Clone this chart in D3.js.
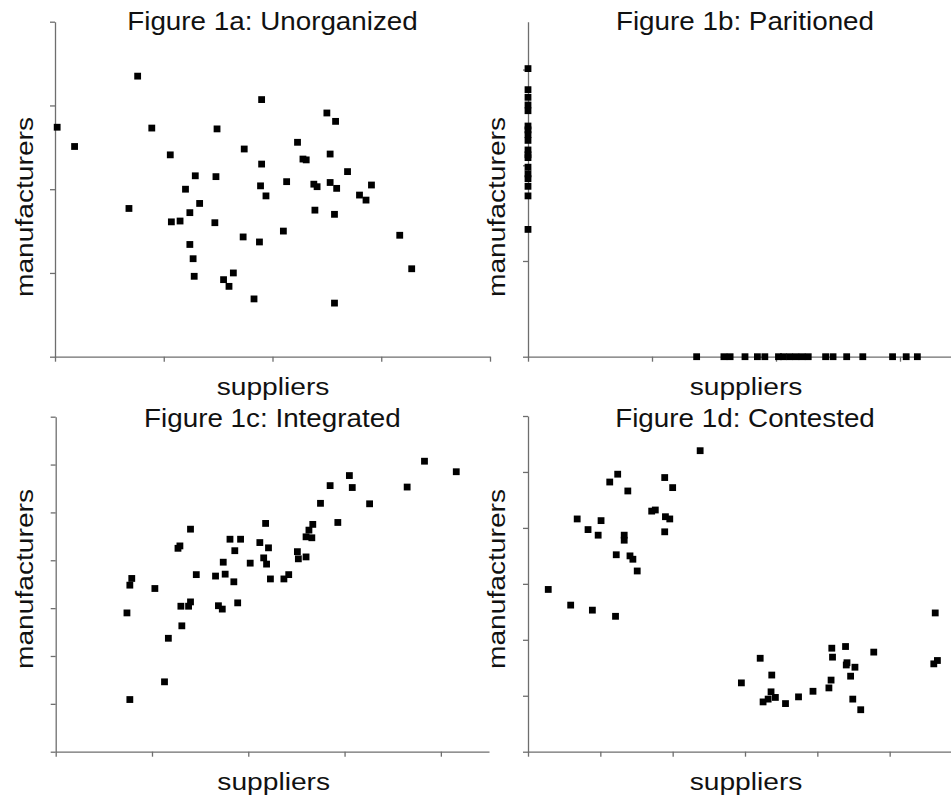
<!DOCTYPE html>
<html>
<head>
<meta charset="utf-8">
<script src="https://cdn.jsdelivr.net/npm/d3@7"></script>
<style>
  body { margin: 0; background: #fff; }
  .axis path, .axis line { stroke: #6e6e6e; stroke-width: 1.3; }
  .axis text { display: none; }
  .label { font-family: 'Liberation Sans', Arial, sans-serif; fill: #111; }
</style>
</head>
<body>
<div id="figure"></div>
<script>

var titles = ['Figure 1a: Unorganized', 'Figure 1b: Paritioned', 'Figure 1c: Integrated', 'Figure 1d: Contested'];
var xLabel = 'suppliers';
var yLabel = 'manufacturers';

var unorganizedSuppliers = [0.02, 0.18, 0.76, 0.89, 0.68, 1.06, 1.07, 1.15, 1.20, 1.29, 1.33, 1.24, 1.24, 1.27, 1.28, 1.48, 1.49, 1.47, 1.55, 1.64, 1.60, 1.73, 1.74, 1.83, 1.88, 1.90, 1.90, 1.89, 1.94, 2.10, 2.13, 2.23, 2.28, 2.31, 2.38, 2.41, 2.39, 2.50, 2.58, 2.53, 2.53, 2.59, 2.57, 2.57, 2.69, 2.80, 2.86, 2.91, 3.17, 3.28];
var unorganizedManufacturers = [2.74, 2.51, 3.35, 2.73, 1.77, 2.41, 1.61, 1.62, 2.00, 2.16, 1.83, 1.72, 1.34, 1.17, 0.96, 2.15, 2.72, 1.60, 0.92, 1.00, 0.84, 1.43, 2.48, 0.69, 1.37, 3.07, 2.30, 2.04, 1.92, 1.50, 2.09, 2.56, 2.36, 2.35, 2.06, 2.03, 1.75, 2.91, 2.81, 2.42, 2.08, 2.01, 1.70, 0.64, 2.21, 1.93, 1.87, 2.05, 1.45, 1.05];

var partitionedSuppliers = [0, 0, 0, 0, 0, 0, 0, 0, 0, 0, 0, 0, 0, 0, 0, 0, 0, 0,
  1.36, 1.58, 1.63, 1.75, 1.85, 1.91, 2.02, 2.06, 2.11, 2.16, 2.21, 2.26, 2.40, 2.46, 2.57, 2.70, 2.94, 3.05, 3.14];
var partitionedManufacturers = [3.01, 2.79, 2.71, 2.63, 2.57, 2.41, 2.37, 2.32, 2.26, 2.16, 2.11, 2.08, 1.98, 1.91, 1.86, 1.78, 1.68, 1.33,
  0, 0, 0, 0, 0, 0, 0, 0, 0, 0, 0, 0, 0, 0, 0, 0, 0, 0, 0];

var integratedSuppliers = [0.74, 0.77, 0.79, 0.77, 1.03, 1.13, 1.17, 1.27, 1.29, 1.30, 1.31, 1.38, 1.40, 1.40, 1.46, 1.66, 1.69, 1.73, 1.74, 1.76, 1.81, 1.85, 1.86, 1.89, 1.92, 2.02, 2.12, 2.16, 2.18, 2.19, 2.21, 2.23, 2.37, 2.42, 2.51, 2.52, 2.60, 2.60, 2.63, 2.66, 2.67, 2.75, 2.85, 2.93, 3.05, 3.08, 3.26, 3.65, 3.83, 4.16];
var integratedManufacturers = [2.90, 3.48, 3.62, 1.09, 3.41, 1.46, 2.37, 4.25, 4.30, 3.04, 2.63, 3.04, 3.13, 4.65, 3.70, 3.67, 3.05, 2.98, 3.96, 3.71, 4.44, 3.55, 4.20, 3.11, 4.44, 3.94, 4.37, 4.05, 4.77, 3.92, 4.26, 3.61, 3.61, 3.70, 4.18, 4.03, 4.07, 4.49, 4.63, 4.47, 4.75, 5.19, 5.56, 4.79, 5.77, 5.52, 5.18, 5.53, 6.07, 5.85];

var contestedSuppliers = [0.28, 0.59, 0.89, 1.21, 0.68, 0.83, 0.97, 1.01, 1.13, 1.24, 1.38, 1.33, 1.33, 1.22, 1.41, 1.45, 1.51, 1.71, 1.76, 1.89, 2.00, 1.90, 1.96, 1.89, 2.38, 2.95, 3.21, 3.37, 3.25, 3.32, 3.36, 3.42, 3.56, 3.74, 3.94, 4.16, 4.19, 4.20, 4.21, 4.39, 4.41, 4.40, 4.52, 4.46, 4.49, 4.60, 4.78, 5.63, 5.61, 5.66];
var contestedManufacturers = [2.90, 2.62, 2.53, 2.42, 4.16, 3.97, 3.87, 4.13, 4.82, 4.96, 4.66, 3.87, 3.78, 3.52, 3.50, 3.44, 3.23, 4.30, 4.32, 4.90, 4.72, 4.20, 4.16, 3.93, 5.38, 1.23, 1.67, 1.37, 0.89, 0.94, 1.07, 0.97, 0.86, 0.98, 1.08, 1.14, 1.28, 1.85, 1.69, 1.88, 1.59, 1.55, 1.51, 1.35, 0.94, 0.75, 1.78, 2.48, 1.57, 1.63];

var panels = [
  { title: titles[0], xs: unorganizedSuppliers, ys: unorganizedManufacturers, xMax: 4, yMax: 4,
    left: 55, right: 490, top: 21.7, bottom: 356.7, titleY: 30, xLabelY: 395, yLabelX: 33, yLabelY: 207 },
  { title: titles[1], xs: partitionedSuppliers, ys: partitionedManufacturers, xMax: 3.5, yMax: 3.5,
    left: 528, right: 962, top: 21.7, bottom: 356.7, titleY: 30, xLabelY: 395, yLabelX: 505, yLabelY: 207 },
  { title: titles[2], xs: integratedSuppliers, ys: integratedManufacturers, xMax: 4.5, yMax: 7,
    left: 55.7, right: 489, top: 416.7, bottom: 751.7, titleY: 427, xLabelY: 790, yLabelX: 33, yLabelY: 579 },
  { title: titles[3], xs: contestedSuppliers, ys: contestedManufacturers, xMax: 6, yMax: 6,
    left: 528, right: 962, top: 416, bottom: 751.7, titleY: 427, xLabelY: 790, yLabelX: 505, yLabelY: 579 }
];

var titleStretch = 1.07;   // the original text is set a little wider than Arial
var labelStretch = 1.15;

var svg = d3.select('#figure').append('svg')
  .attr('width', 951)
  .attr('height', 798);

function drawPanel( p ) {

  var scaleX = d3.scaleLinear()
    .domain([ 0, p.xMax ])
    .range([ p.left, p.right ]);

  var scaleY = d3.scaleLinear()
    .domain([ 0, p.yMax ])
    .range([ p.bottom, p.top ]);

  var axisX = d3.axisBottom( scaleX )
    .tickValues( d3.range( 0, Math.floor( p.xMax ) + 1 ) )
    .tickSize( 5 )
    .tickSizeOuter( 0 );

  var axisY = d3.axisLeft( scaleY )
    .tickValues( d3.range( 0, Math.floor( p.yMax ) + 1 ) )
    .tickSize( 5 )
    .tickSizeOuter( 0 );

  svg.append('g')
    .classed('axis', true)
    .attr('transform', 'translate(0,' + p.bottom + ')')
    .call( axisX );

  svg.append('g')
    .classed('axis', true)
    .attr('transform', 'translate(' + p.left + ',0)')
    .call( axisY );

  var size = 6.8;
  svg.append('g').selectAll('rect')
    .data( p.xs.map( function( x, i ) { return { x: x, y: p.ys[i] }; }) )
    .enter()
    .append('rect')
    .attr('x', function( d ) { return scaleX( d.x ) - size / 2; })
    .attr('y', function( d ) { return scaleY( d.y ) - size / 2; })
    .attr('width', size)
    .attr('height', size)
    .attr('fill', '#000');

  var midX = ( p.left + p.right ) / 2;

  svg.append('text')
    .classed('label', true)
    .attr('text-anchor', 'middle')
    .attr('font-size', 26)
    .attr('transform', 'translate(' + midX + ',' + p.titleY + ') scale(' + titleStretch + ',1)')
    .text( p.title );

  svg.append('text')
    .classed('label', true)
    .attr('text-anchor', 'middle')
    .attr('font-size', 24.5)
    .attr('transform', 'translate(' + ( p.left + 218 ) + ',' + p.xLabelY + ') scale(' + labelStretch + ',1)')
    .text( xLabel );

  svg.append('text')
    .classed('label', true)
    .attr('text-anchor', 'middle')
    .attr('font-size', 24.5)
    .attr('transform', 'translate(' + p.yLabelX + ',' + p.yLabelY + ') rotate(-90) scale(' + labelStretch + ',1)')
    .text( yLabel );
}

panels.forEach( drawPanel );

</script>
</body>
</html>
